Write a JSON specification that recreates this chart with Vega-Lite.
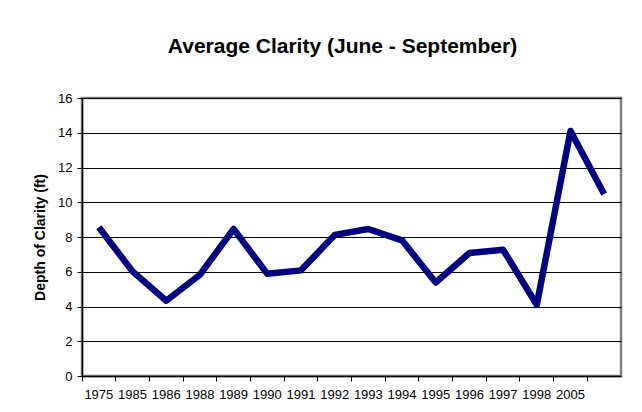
{
  "$schema": "https://vega.github.io/schema/vega-lite/v6.json",
  "width": 539,
  "height": 278,
  "autosize": "none",
  "padding": {"left": 82, "top": 98, "right": 21, "bottom": 36},
  "background": "white",
  "title": {
    "text": "Average Clarity (June - September)",
    "font": "Liberation Sans",
    "fontSize": 21,
    "fontWeight": "bold",
    "color": "black",
    "anchor": "middle",
    "baseline": "alphabetic",
    "offset": 18,
    "dx": -9
  },
  "config": {
    "view": {"stroke": "#808080", "strokeWidth": 2.5},
    "axis": {
      "labelFont": "Liberation Sans",
      "labelColor": "black",
      "titleFont": "Liberation Sans",
      "titleColor": "black",
      "domainColor": "black",
      "tickColor": "black",
      "domainWidth": 1.5
    }
  },
  "data": {
    "values": [
      {"year": "1975", "depth": 8.56},
      {"year": "1985", "depth": 6.02},
      {"year": "1986", "depth": 4.33},
      {"year": "1988", "depth": 5.83},
      {"year": "1989", "depth": 8.46},
      {"year": "1990", "depth": 5.88},
      {"year": "1991", "depth": 6.08},
      {"year": "1992", "depth": 8.12},
      {"year": "1993", "depth": 8.46},
      {"year": "1994", "depth": 7.81},
      {"year": "1995", "depth": 5.38},
      {"year": "1996", "depth": 7.08},
      {"year": "1997", "depth": 7.27},
      {"year": "1998", "depth": 4.1},
      {"year": "2005", "depth": 14.1},
      {"year": "", "depth": 10.48}
    ]
  },
  "encoding": {
    "y": {
      "field": "depth",
      "type": "quantitative",
      "scale": {"domain": [0, 16], "nice": false, "zero": true},
      "axis": {
        "values": [0, 2, 4, 6, 8, 10, 12, 14, 16],
        "title": "Depth of Clarity (ft)",
        "titleFontSize": 14,
        "titleFontWeight": "bold",
        "titlePadding": 10,
        "labelFontSize": 13,
        "labelPadding": 5,
        "tickSize": 5,
        "grid": true,
        "gridColor": "black",
        "gridWidth": 1,
        "gridOpacity": 1
      }
    }
  },
  "layer": [
    {
      "mark": {"type": "line", "color": "#000080", "strokeWidth": 6.5, "strokeJoin": "round", "strokeCap": "butt"},
      "encoding": {
        "x": {
          "field": "year",
          "type": "ordinal",
          "sort": null,
          "scale": {"type": "band", "paddingInner": 0, "paddingOuter": 0},
          "axis": {
            "orient": "bottom",
            "title": null,
            "labels": false,
            "ticks": true,
            "tickSize": 5,
            "bandPosition": 0,
            "grid": false,
            "domain": true
          }
        }
      }
    },
    {
      "mark": {"type": "line", "opacity": 0},
      "encoding": {
        "x": {
          "field": "year",
          "type": "ordinal",
          "sort": null,
          "scale": {"type": "band", "paddingInner": 0, "paddingOuter": 0},
          "axis": {
            "orient": "bottom",
            "title": null,
            "labels": true,
            "labelAngle": 0,
            "labelFontSize": 13,
            "labelBaseline": "top",
            "ticks": false,
            "tickSize": 0,
            "labelPadding": 12,
            "domain": false,
            "grid": false
          }
        }
      }
    }
  ],
  "resolve": {"axis": {"x": "independent"}}
}
